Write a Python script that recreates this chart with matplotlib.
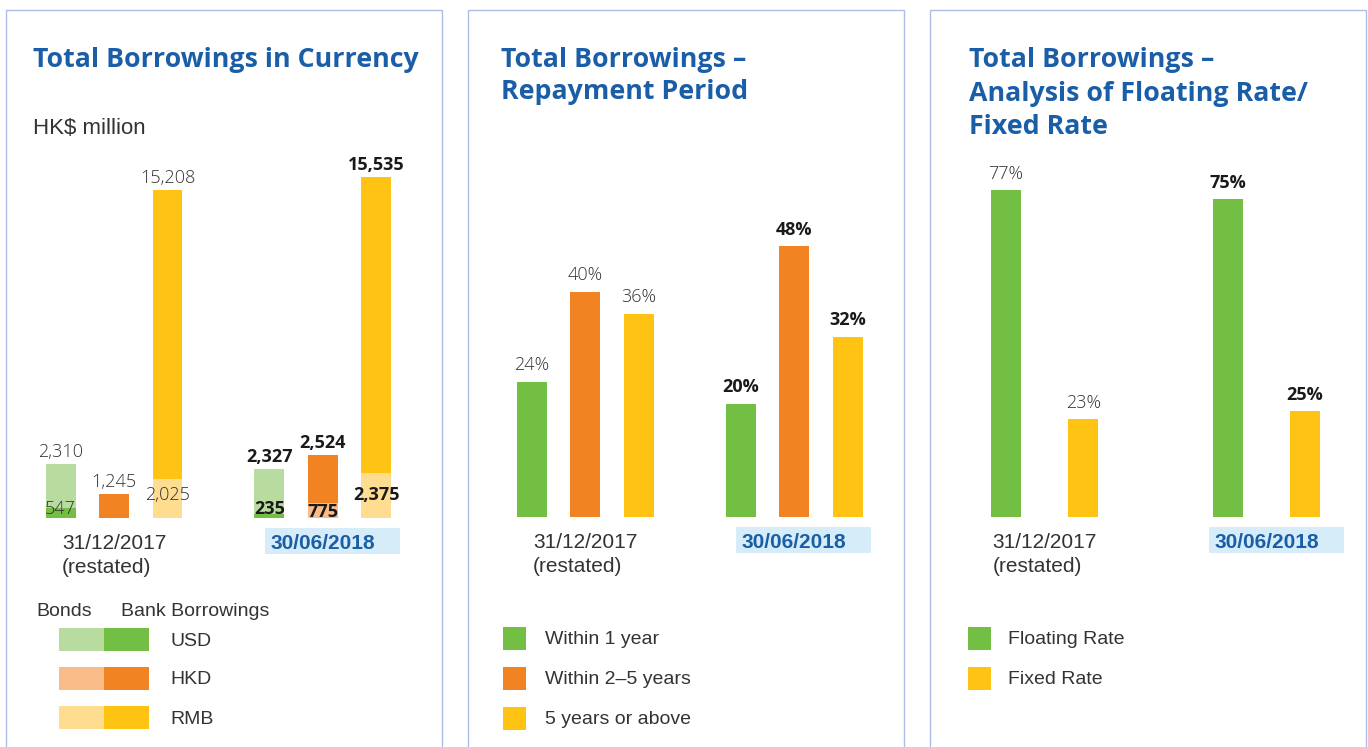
import matplotlib.pyplot as plt
from matplotlib.patches import Rectangle

W, H = 1368, 747

# data
periods = ["31/12/2017\n(restated)", "30/06/2018"]

currencies = ["USD", "HKD", "RMB"]
bonds = [[2310, 2327], [0, 775], [2025, 2375]]
bank_borrowings = [[547, 235], [1245, 2524], [15208, 15535]]

repay_labels = ["Within 1 year", "Within 2–5 years", "5 years or above"]
repay_2017 = [24, 40, 36]
repay_2018 = [20, 48, 32]

rate_labels = ["Floating Rate", "Fixed Rate"]
rate_2017 = [77, 23]
rate_2018 = [75, 25]

BLUE = "#1b5ea8"
TEXT = "#333333"
BORDER = "#aebde3"
HILITE = "#d6ecf8"
dark = ["#72bf44", "#f28322", "#fec313"]
light = ["#b8dca0", "#f9bb88", "#fedd91"]

TITLE_FONT = ["Open Sans", "DejaVu Sans"]
BODY_FONT = ["Liberation Sans", "DejaVu Sans"]

fig = plt.figure(figsize=(W / 100, H / 100), dpi=100)


def fx(x):
    return x / W


def fy(y):
    return 1 - y / H


def panel(x0, x1, title_x, title_lines, line_ys):
    fig.add_artist(Rectangle((fx(x0), -0.05), fx(x1 - x0), fy(10) + 0.05,
                             transform=fig.transFigure, fill=False, ec=BORDER, lw=1.0))
    for line, y in zip(title_lines, line_ys):
        fig.text(fx(title_x), fy(y), line, ha="left", va="center", color=BLUE,
                 fontsize=19.3, fontweight="bold", family=TITLE_FONT)


def chart_axes(left, right, base, top, xlim, ymax):
    ax = fig.add_axes([fx(left), fy(base), fx(right - left), (base - top) / H])
    ax.set_xlim(*xlim)
    ax.set_ylim(0, ymax)
    ax.axis("off")
    return ax


def value_label(ax, x, y, text, bold, dy):
    ax.annotate(text, (x, y), xytext=(0, dy), textcoords="offset points",
                ha="center", va="baseline", fontsize=13,
                color="#1a1a1a" if bold else TEXT,
                fontweight="bold" if bold else "light",
                family=TITLE_FONT, annotation_clip=False)


def period_labels(ax):
    ax.annotate(periods[0], (0, 0), xytext=(0, -11.5), textcoords="offset points",
                ha="center", va="top", multialignment="left", fontsize=15,
                color=TEXT, family=BODY_FONT, linespacing=1.35, annotation_clip=False)
    cx, cy = ax.transData.transform((1, 0))
    fig.add_artist(Rectangle((fx(cx - 58), (cy - 36) / H), fx(135), 26 / H,
                             transform=fig.transFigure, fc=HILITE, ec="none", zorder=0))
    ax.annotate(periods[1], (1, 0), xytext=(0, -11.5), textcoords="offset points",
                ha="center", va="top", fontsize=15, fontweight="bold",
                color=BLUE, family=BODY_FONT, annotation_clip=False)


def legend_rows(x_sw, x_txt, labels, colors, y0=627, step=40):
    for i, (lab, c) in enumerate(zip(labels, colors)):
        y = y0 + step * i
        fig.add_artist(Rectangle((fx(x_sw), fy(y + 23)), fx(23), 23 / H,
                                 transform=fig.transFigure, fc=c, ec="none"))
        fig.text(fx(x_txt), fy(y + 13), lab, ha="left", va="center",
                 fontsize=14, color=TEXT, family=BODY_FONT)


# ---- panel 1: currency ----
panel(6, 442, 33, ["Total Borrowings in Currency"], [60])
fig.text(fx(33), fy(128), "HK$ million", ha="left", va="center",
         fontsize=16, color=TEXT, family=BODY_FONT)

ax1 = chart_axes(20, 432, 518, 150, (-0.45, 1.522), 19335)
width = 0.1435
inner_dy = [3, 1, 13]
for i, cur in enumerate(currencies):
    for j in range(2):
        b, k = bonds[i][j], bank_borrowings[i][j]
        if k <= b:
            lower, lc, upper, uc = k, dark[i], b, light[i]
        else:
            lower, lc, upper, uc = b, light[i], k, dark[i]
        x = j + (i - 1) * 0.256
        ax1.bar(x, lower, width, color=lc)
        ax1.bar(x, upper, width, bottom=lower, color=uc)
        value_label(ax1, x, lower + upper, f"{upper:,}", j == 1, 5)
        if lower:
            value_label(ax1, x, 0, f"{lower:,}", j == 1, inner_dy[i])
period_labels(ax1)

fig.text(fx(36), fy(612), "Bonds", ha="left", va="center", fontsize=14,
         color=TEXT, family=BODY_FONT)
fig.text(fx(121), fy(612), "Bank Borrowings", ha="left", va="center", fontsize=14,
         color=TEXT, family=BODY_FONT)
for i, cur in enumerate(currencies):
    y = 628 + 39 * i
    fig.add_artist(Rectangle((fx(59), fy(y + 23)), fx(45), 23 / H,
                             transform=fig.transFigure, fc=light[i], ec="none"))
    fig.add_artist(Rectangle((fx(104), fy(y + 23)), fx(45), 23 / H,
                             transform=fig.transFigure, fc=dark[i], ec="none"))
    fig.text(fx(170), fy(y + 13), cur, ha="left", va="center", fontsize=14,
             color=TEXT, family=BODY_FONT)

# ---- panel 2: repayment period ----
panel(468, 904, 501, ["Total Borrowings –", "Repayment Period"], [60, 92])
ax2 = chart_axes(478, 894, 517, 150, (-0.512, 1.478), 65.1)
for j, vals in enumerate([repay_2017, repay_2018]):
    for i, v in enumerate(vals):
        x = j + (i - 1) * 0.256
        ax2.bar(x, v, width, color=dark[i])
        value_label(ax2, x, v, f"{v}%", j == 1, 8.5)
period_labels(ax2)
legend_rows(503, 545, repay_labels, dark)

# ---- panel 3: floating / fixed ----
panel(930, 1366, 969, ["Total Borrowings –", "Analysis of Floating Rate/", "Fixed Rate"],
      [60, 94, 127])
ax3 = chart_axes(940, 1356, 517, 150, (-0.471, 1.403), 86.5)
for j, vals in enumerate([rate_2017, rate_2018]):
    for i, v in enumerate(vals):
        x = j + (i - 0.5) * 0.347
        ax3.bar(x, v, 0.135, color=[dark[0], dark[2]][i])
        value_label(ax3, x, v, f"{v}%", j == 1, 8)
period_labels(ax3)
legend_rows(968, 1008, rate_labels, [dark[0], dark[2]])

fig.savefig("out.png", dpi=100)
